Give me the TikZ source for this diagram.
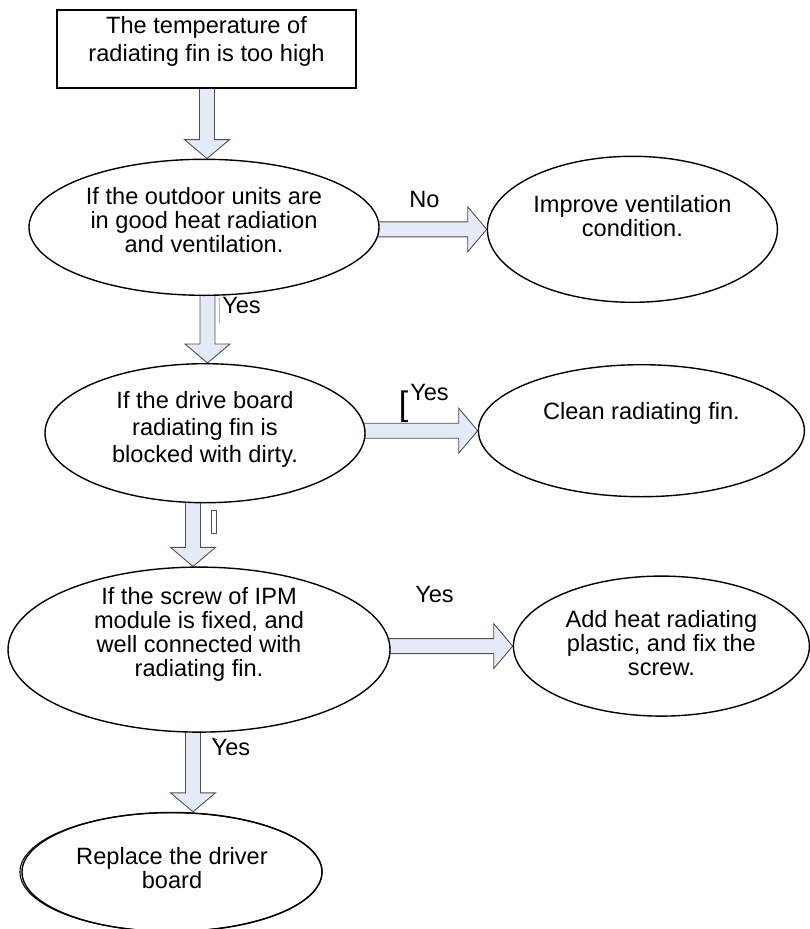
\documentclass[tikz,border=0pt]{standalone}
\usepackage{fontspec}
\setmainfont{Liberation Sans}
\usetikzlibrary{positioning,shapes.geometric,calc,backgrounds}
\definecolor{flowink}{HTML}{000000}
\definecolor{arrowfill}{HTML}{E4EBF6}
\definecolor{arrowedge}{HTML}{505050}
\tikzset{
  flowbox/.style={
    rectangle,
    draw=flowink,
    fill=white,
    line width=1.2pt,
    align=center,
    inner sep=0pt,
    minimum width=299pt,
    minimum height=78pt,
    font=\fontsize{23.6}{28}\selectfont
  },
  flowoval/.style={
    ellipse,
    draw=flowink,
    fill=white,
    line width=1.4pt,
    align=center,
    inner sep=0pt,
    font=\fontsize{23.6}{24}\selectfont
  },
  flowarrow/.style={draw=arrowedge, fill=arrowfill, line width=0.9pt},
  flowlabel/.style={inner sep=0pt, anchor=base, font=\fontsize{23.6}{28}\selectfont},
  flowmark/.style={draw=arrowedge, line width=0.6pt}
}
% hollow block arrows, drawn behind the nodes
\newcommand{\flowdown}[3][0pt]{%
  \begin{pgfonlayer}{background}
  \draw[flowarrow] let \p1=([xshift=#1]#2.south), \p2=(#3.north) in
    (\x1-7.5pt,\y1+4pt) -- (\x1-7.5pt,\y2+19pt) -- (\x1-22.5pt,\y2+19pt) -- (\x1,\y2)
    -- (\x1+22.5pt,\y2+19pt) -- (\x1+7.5pt,\y2+19pt) -- (\x1+7.5pt,\y1+4pt) -- cycle;
  \end{pgfonlayer}}
\newcommand{\flowright}[2]{%
  \begin{pgfonlayer}{background}
  \draw[flowarrow] let \p1=(#1.east), \p2=(#2.west) in
    (\x1-4pt,\y2+7.5pt) -- (\x2-19pt,\y2+7.5pt) -- (\x2-19pt,\y2+22.5pt) -- (\x2,\y2)
    -- (\x2-19pt,\y2-22.5pt) -- (\x2-19pt,\y2-7.5pt) -- (\x1-4pt,\y2-7.5pt) -- cycle;
  \end{pgfonlayer}}

\begin{document}
\begin{tikzpicture}[x=1pt, y=-1pt]
\useasboundingbox (0,0) rectangle (809,929);
\node[flowbox, text height=24pt, text depth=0pt] (hot) at (206.5,49) {The temperature of\\radiating fin is too high};
\node[flowoval, minimum width=350pt, minimum height=136pt, text height=50pt, text depth=0pt,
  below=70pt of hot, xshift=-2.5pt] (vent) {If the outdoor units are\\in good heat radiation\\and ventilation.};
\node[flowoval, minimum width=290pt, minimum height=146pt, text height=14pt, text depth=0pt,
  right=107pt of vent, yshift=-2pt] (improve) {Improve ventilation\\condition.};
\node[flowoval, minimum width=320pt, minimum height=139pt, text height=58pt, text depth=0pt,
  font=\fontsize{23.6}{27}\selectfont, below=67pt of vent, xshift=1pt] (dirty) {If the drive board\\radiating fin is\\blocked with dirty.};
\node[flowoval, minimum width=326pt, minimum height=132pt, text height=0pt, text depth=22pt,
  right=112pt of dirty, yshift=2.5pt] (clean) {Clean radiating fin.};
\node[flowoval, minimum width=382pt, minimum height=165pt, text height=53pt, text depth=0pt,
  below=63pt of dirty, xshift=-6pt] (screw) {If the screw of IPM\\module is fixed, and\\well connected with\\radiating fin.};
\node[flowoval, minimum width=296pt, minimum height=140pt, text height=58pt, text depth=0pt,
  right=122pt of screw, yshift=3.5pt] (addheat) {Add heat radiating\\plastic, and fix the\\screw.};
\node[flowoval, minimum width=300pt, minimum height=119pt, text height=33pt, text depth=0pt,
  below=79pt of screw, xshift=-27pt] (replace) {Replace the driver\\board};
\draw[line width=1.1pt] ([xshift=-1pt]replace.center) ellipse [x radius=151pt, y radius=59.3pt];

\flowdown[0.5pt]{hot}{vent}
\flowdown[3.5pt]{vent}{dirty}
\flowdown[-12pt]{dirty}{screw}
\flowdown[-6pt]{screw}{replace}
\flowright{vent}{improve}
\flowright{dirty}{clean}
\flowright{screw}{addheat}

\node[flowlabel] (no) at (424.5,207) {No};
\node[flowlabel] (yesa) at (241.5,313) {Yes};
\node[flowlabel] (yesb) at (429.5,400) {Yes};
\node[flowlabel] (yesc) at (434.5,602) {Yes};
\node[flowlabel] (yesd) at (231,755) {Yes};
\node[flowlabel, font=\fontsize{34}{34}\selectfont] (brk) at (403.5,415) {[};
% stray marks
\draw[flowmark, draw=gray!60] (219,298) -- (219,323);
\draw[flowmark] (211,510) rectangle (216,533);
\draw[flowmark, draw=black] (212,738) -- (217,739.5);
\end{tikzpicture}
\end{document}
